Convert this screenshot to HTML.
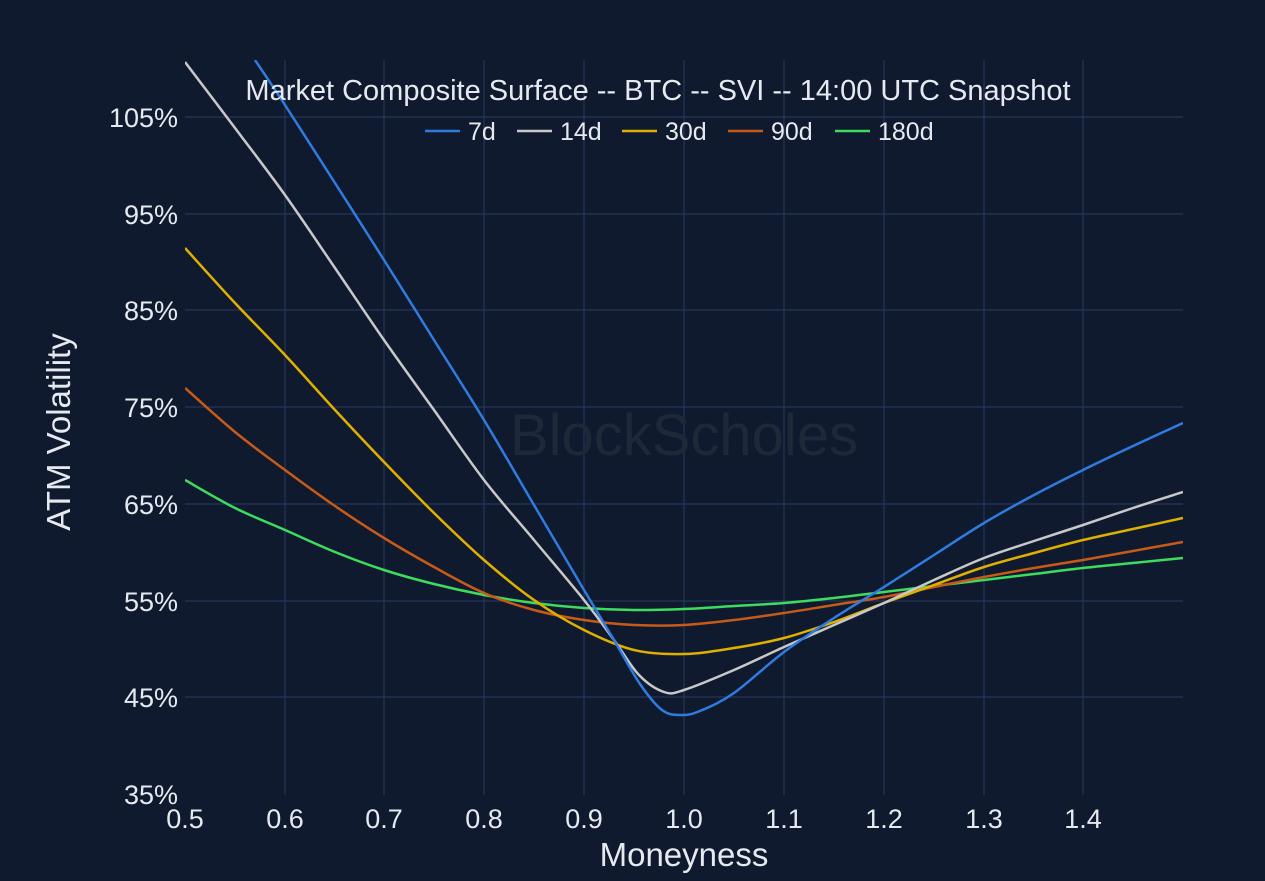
<!DOCTYPE html>
<html><head><style>
body{margin:0;background:#0f1a2e;}
svg{display:block;font-family:"Liberation Sans",sans-serif;}
</style></head><body>
<svg id="s" width="1265" height="881" viewBox="0 0 1265 881">
<rect width="1265" height="881" fill="#0f1a2e"/>
<defs><clipPath id="c"><rect x="185" y="60" width="998" height="735"/></clipPath></defs>
<g stroke="#26365a" stroke-width="1.2">
<line x1="285" y1="60" x2="285" y2="795"/><line x1="384" y1="60" x2="384" y2="795"/><line x1="484" y1="60" x2="484" y2="795"/><line x1="584" y1="60" x2="584" y2="795"/><line x1="684" y1="60" x2="684" y2="795"/><line x1="784" y1="60" x2="784" y2="795"/><line x1="884" y1="60" x2="884" y2="795"/><line x1="984" y1="60" x2="984" y2="795"/><line x1="1083" y1="60" x2="1083" y2="795"/>
<line x1="185" y1="117" x2="1183" y2="117"/><line x1="185" y1="214" x2="1183" y2="214"/><line x1="185" y1="310" x2="1183" y2="310"/><line x1="185" y1="407" x2="1183" y2="407"/><line x1="185" y1="504" x2="1183" y2="504"/><line x1="185" y1="601" x2="1183" y2="601"/><line x1="185" y1="697" x2="1183" y2="697"/>
</g>
<text x="684" y="455" text-anchor="middle" font-size="58" fill="#1e2838">BlockScholes</text>
<g id="curves" clip-path="url(#c)" fill="none" stroke-width="2.5" stroke-linejoin="round"></g>
<g fill="#e6e9ef" font-size="27" text-anchor="end">
<text x="178" y="127">105%</text><text x="178" y="224">95%</text><text x="178" y="320">85%</text><text x="178" y="417">75%</text><text x="178" y="514">65%</text><text x="178" y="611">55%</text><text x="178" y="707">45%</text><text x="178" y="804">35%</text>
</g>
<g fill="#e6e9ef" font-size="27" text-anchor="middle">
<text x="185" y="828">0.5</text><text x="285" y="828">0.6</text><text x="384" y="828">0.7</text><text x="484" y="828">0.8</text><text x="584" y="828">0.9</text><text x="684" y="828">1.0</text><text x="784" y="828">1.1</text><text x="884" y="828">1.2</text><text x="984" y="828">1.3</text><text x="1083" y="828">1.4</text>
</g>
<text x="684" y="866" text-anchor="middle" font-size="33" fill="#e6e9ef">Moneyness</text>
<text transform="translate(70,432) rotate(-90)" text-anchor="middle" font-size="33" fill="#e6e9ef">ATM Volatility</text>
<text x="658" y="100" text-anchor="middle" font-size="29" fill="#e6e9ef">Market Composite Surface -- BTC -- SVI -- 14:00 UTC Snapshot</text>
<g font-size="25" fill="#e6e9ef" stroke-width="2.5">
<line x1="425" y1="131" x2="460" y2="131" stroke="#2f7be0"/><text x="468" y="140">7d</text>
<line x1="517" y1="131" x2="552" y2="131" stroke="#c8c8c8"/><text x="560" y="140">14d</text>
<line x1="622" y1="131" x2="657" y2="131" stroke="#e0b000"/><text x="665" y="140">30d</text>
<line x1="728" y1="131" x2="763" y2="131" stroke="#c85a18"/><text x="771" y="140">90d</text>
<line x1="835" y1="131" x2="870" y2="131" stroke="#3ddc5e"/><text x="878" y="140">180d</text>
</g>
</svg>
<script>
var S={
"#3ddc5e":[[185,480],[235,508],[285,530],[335,552],[384,570],[434,584],[484,595],[534,603],[584,608],[634,610],[684,609],[734,606],[784,603],[834,598],[884,592],[934,586],[984,580],[1034,574],[1083,568],[1133,563],[1183,558]],
"#c85a18":[[185,388],[235,432],[285,470],[335,506],[384,538],[434,567],[484,593],[534,610],[584,620],[634,625],[684,625],[734,620],[784,613],[834,605],[884,597],[934,587],[984,577],[1034,568],[1083,560],[1133,551],[1183,542]],
"#e0b000":[[185,248],[235,303],[285,355],[335,410],[384,462],[434,513],[484,560],[534,600],[584,630],[634,650],[684,654],[734,648],[784,638],[834,622],[884,603],[934,585],[984,567],[1034,553],[1083,540],[1133,529],[1183,518]],
"#c8c8c8":[[185,62],[235,128],[285,195],[335,268],[384,340],[434,410],[484,480],[534,540],[584,600],[614,640],[639,675],[664,692],[684,690],[734,670],[784,647],[834,625],[884,603],[934,580],[984,558],[1034,541],[1083,525],[1133,508],[1183,492]],
"#2f7be0":[[255,60],[285,105],[335,183],[384,260],[434,340],[484,420],[534,505],[584,590],[614,640],[640,684],[662,710],[681,715],[700,711],[734,693],[784,652],[834,618],[884,587],[934,555],[984,523],[1034,495],[1083,470],[1133,446],[1183,423]]};
var g=document.getElementById("curves"),ns="http://www.w3.org/2000/svg";
for(var c in S){var p=S[c],d="M"+p[0][0]+","+p[0][1];
for(var i=0;i<p.length-1;i++){var a=p[i-1]||p[i],b=p[i],e=p[i+1],f=p[i+2]||e;
d+="C"+(b[0]+(e[0]-a[0])/6)+","+(b[1]+(e[1]-a[1])/6)+" "+(e[0]-(f[0]-b[0])/6)+","+(e[1]-(f[1]-b[1])/6)+" "+e[0]+","+e[1];}
var el=document.createElementNS(ns,"path");el.setAttribute("d",d);el.setAttribute("stroke",c);g.appendChild(el);}
</script>
</body></html>
